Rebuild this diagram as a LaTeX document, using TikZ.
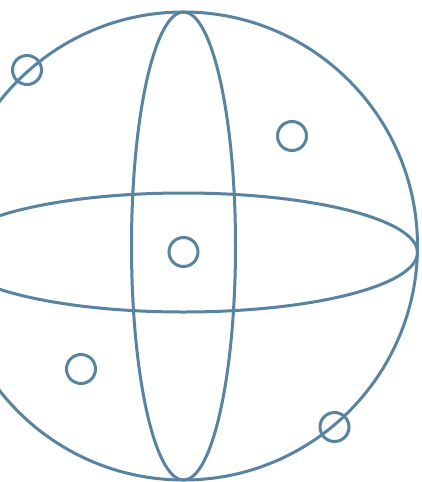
\documentclass[tikz,border=0pt]{standalone}
\usepackage{tikz}
\usetikzlibrary{positioning}
\definecolor{acel}{RGB}{88,131,161}
\tikzset{
  vonal/.style={draw=acel,line width=3pt},
  karika/.style={circle,draw=acel,line width=3pt,fill=none,minimum size=29pt,inner sep=0pt},
}

\begin{document}
\begin{tikzpicture}[x=1pt,y=-1pt]
  \useasboundingbox (0,0) rectangle (422,482);
  \clip (0,0) rectangle (422,482);
  % gomb es a ket fokor
  \draw[vonal] (183.5,246) circle (234);
  \draw[vonal] (183.5,246) ellipse (52 and 234);
  \draw[vonal] (183.5,252.5) ellipse (234 and 59.5);
  % kis karikak
  \node[karika] (k1) at (27,70) {};
  \node[karika] (k2) at (292,136) {};
  \node[karika] (k3) at (183.5,252) {};
  \node[karika] (k4) at (81,369) {};
  \node[karika] (k5) at (334.5,427) {};
\end{tikzpicture}
\end{document}
